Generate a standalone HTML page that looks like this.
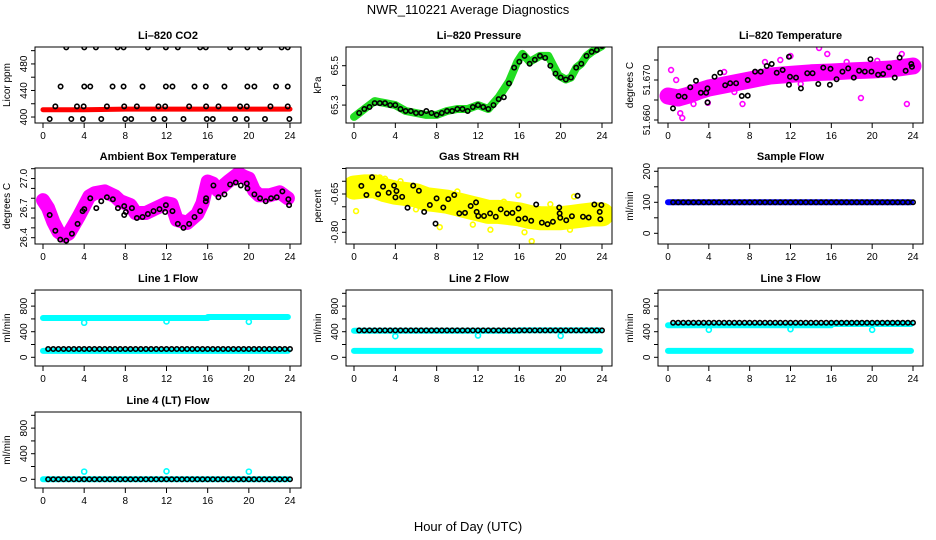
<!DOCTYPE html>
<html><head><meta charset="utf-8">
<style>
html,body{margin:0;padding:0;background:#fff;}
svg{display:block;font-family:"Liberation Sans",Arial,sans-serif;}
</style></head>
<body>
<svg id="chart" width="936" height="540" viewBox="0 0 936 540" xmlns="http://www.w3.org/2000/svg">
<rect x="0" y="0" width="936" height="540" fill="#fff"/>
<text x="468" y="14" text-anchor="middle" font-size="13">NWR_110221  Average Diagnostics</text>
<text x="468" y="531" text-anchor="middle" font-size="13">Hour of Day (UTC)</text>
</svg>
<script>
// ---------- data ----------
const hourTicks = [0,4,8,12,16,20,24];
// CO2
const co2HighHours = [2.26,4.01,5.14,7.25,7.83,10.19,11.94,13.1,15.27,15.82,18.18,19.86,21.09,23.19,23.78];
const co2HighVals  = [505,505,505,505,505,505,505,505,505,505,505,505,505,505,505];
const co2MidHours  = [1.71,4.01,4.59,6.76,7.83,9.67,11.94,12.58,14.72,15.82,17.63,19.86,20.54,22.64,23.78];
const co2MidVals   = [446,446,446,446,446,446,446,446,446,446,446,446,446,446,446];
const co2LowHours  = [1.2,3.3,3.95,6.21,7.89,9.12,11.22,11.87,14.2,15.85,17.05,19.15,19.8,22.1,23.78];
const co2LowVals   = [416,416,416,416,416,416,416,416,416,416,416,416,416,416,416];
const co2BotHours  = [0.65,2.75,3.88,5.66,7.99,8.57,10.74,11.81,13.65,15.91,16.5,18.66,19.8,21.57,23.94];
const co2BotVals   = [397,397,397,397,397,397,397,397,397,397,397,397,397,397,397];
const co2BandHours = [0,4,8,12,16,20,24];
const co2BandVals  = [411,411,412,412,412,412,412];
// Pressure
const presBandHours = [0,0.5,1,2,3,4,5,6,7,8,9,10,11,12,13,14,15,15.8,16.3,17,18,18.8,19.3,19.8,20.5,21,21.5,22,22.5,23,24];
const presBandVals  = [65.24,65.26,65.28,65.32,65.31,65.3,65.27,65.26,65.25,65.25,65.27,65.28,65.28,65.3,65.28,65.34,65.42,65.52,65.56,65.52,65.55,65.55,65.5,65.45,65.43,65.44,65.49,65.51,65.55,65.57,65.6];
const presPtHours = [0.5,1,1.5,2,2.5,3,3.5,4,4.5,5,5.5,6,6.5,7,7.5,8,8.5,9,9.5,10,10.5,11,11.5,12,12.5,13,13.5,14,14.5,15,15.5,16,16.5,17,17.5,18,18.5,19,19.5,20,20.5,21,21.5,22,22.5,23,23.5,24];
const presPtVals  = [65.26,65.28,65.29,65.31,65.31,65.31,65.30,65.30,65.28,65.27,65.27,65.26,65.26,65.27,65.26,65.25,65.26,65.27,65.27,65.28,65.28,65.27,65.29,65.30,65.29,65.28,65.30,65.33,65.34,65.41,65.49,65.52,65.55,65.51,65.53,65.55,65.54,65.50,65.46,65.44,65.43,65.44,65.49,65.51,65.55,65.57,65.58,65.60];
// Li-820 temperature
const tempBandHours = [0,1,2,3,4,6,8,10,12,14,16,18,20,22,24];
const tempBandVals  = [51.6660,51.6655,51.6662,51.6672,51.6680,51.6690,51.6700,51.6710,51.6714,51.6718,51.6720,51.6723,51.6725,51.6728,51.6735];
const tempOutHours = [0.3,1.4,1.2,14.8,15.6,23.4,18.9,7.3,3.9,22.9,12.0,0.8,2.5,5.5,9.5,11.0,17.5,20.5,13.0,6.5];
const tempOutVals  = [51.6725,51.6605,51.6617,51.6780,51.6765,51.6640,51.6655,51.6640,51.6643,51.6765,51.6760,51.6700,51.6640,51.6720,51.6745,51.6750,51.6745,51.6748,51.6690,51.6670];
const tempPtHours = [0.49,1.04,1.63,2.18,2.74,3.22,3.74,3.87,3.87,4.56,5.11,5.6,6.09,6.67,7.23,7.81,7.81,8.53,9.08,9.67,10.16,10.65,11.23,11.85,11.85,11.95,12.54,13.02,13.64,14.16,14.72,15.21,15.92,15.86,16.51,17.09,17.65,18.2,18.72,19.28,19.83,19.93,20.58,21.07,21.65,22.21,22.69,23.28,23.83,23.9];
const tempPtVals  = [51.6629,51.6660,51.6658,51.6682,51.6698,51.6668,51.6668,51.6679,51.6644,51.6708,51.6718,51.6687,51.6692,51.6692,51.6660,51.6661,51.6700,51.6721,51.6721,51.6735,51.6740,51.6718,51.6725,51.6758,51.6688,51.6708,51.6706,51.6679,51.6717,51.6717,51.6690,51.6731,51.6728,51.6688,51.6702,51.6721,51.6729,51.6706,51.6723,51.6721,51.6752,51.6721,51.6713,51.6715,51.6732,51.6706,51.6756,51.6723,51.6740,51.6733];
// Ambient box temperature
const ambBandHours = [0,0.5,1,1.5,2,2.5,3,3.5,4,4.5,5,6,7,7.5,8,8.5,9,10,11,12,12.5,13,14,15,15.5,16,16.5,17,18,19,19.5,20,20.5,21,22,23,23.8];
const ambBandVals  = [26.78,26.70,26.56,26.46,26.42,26.44,26.53,26.62,26.72,26.82,26.85,26.87,26.82,26.77,26.75,26.73,26.65,26.65,26.70,26.75,26.74,26.58,26.55,26.64,26.75,26.97,26.95,26.88,26.97,27.05,27.02,27.0,26.88,26.83,26.83,26.86,26.80];
const ambPtHours = [0.65,1.2,1.68,2.26,2.81,3.36,3.85,4.01,4.59,5.18,5.66,6.21,6.79,7.28,7.89,7.89,8.05,8.64,9.12,9.67,10.19,10.74,11.32,11.87,11.94,12.58,13.1,13.65,14.2,14.72,15.27,15.82,15.85,16.56,17.05,17.63,18.18,18.73,19.22,19.8,19.86,20.54,21.09,21.64,22.16,22.71,23.26,23.84,23.91];
const ambPtVals  = [26.63,26.47,26.38,26.37,26.44,26.54,26.67,26.69,26.80,26.70,26.77,26.81,26.79,26.70,26.72,26.63,26.66,26.70,26.60,26.61,26.64,26.67,26.69,26.66,26.73,26.67,26.54,26.50,26.54,26.61,26.67,26.77,26.80,26.93,26.81,26.84,26.94,26.96,26.93,26.95,26.90,26.84,26.80,26.77,26.80,26.81,26.87,26.79,26.73];
// Gas stream RH
const rhBandHours = [0,1,2,3,4,5,6,7,8,9,10,11,12,13,14,15,16,17,18,19,20,21,22,23,24];
const rhBandVals  = [-0.625,-0.62,-0.62,-0.635,-0.645,-0.65,-0.655,-0.67,-0.675,-0.68,-0.69,-0.70,-0.71,-0.72,-0.72,-0.725,-0.73,-0.74,-0.745,-0.745,-0.745,-0.74,-0.735,-0.73,-0.73];
const rhOutHours = [0.2,2.5,3.0,8.3,13.2,16.5,17.2,15.9,21.3,20.9,11.5,0.5,6.0,10.0,14.5,19.0,22.5,4.5];
const rhOutVals  = [-0.717,-0.585,-0.59,-0.78,-0.79,-0.8,-0.835,-0.655,-0.66,-0.79,-0.77,-0.6,-0.71,-0.64,-0.68,-0.69,-0.7,-0.6];
const rhPtHours = [0.71,1.2,1.75,2.33,2.81,3.36,3.88,4.01,4.11,4.66,5.18,5.73,6.28,6.79,7.34,7.89,7.99,8.64,9.12,9.7,10.19,10.74,11.29,11.81,11.87,12.03,12.58,13.17,13.72,14.2,14.78,15.33,15.92,15.92,16.56,17.15,17.63,18.18,18.73,19.25,19.86,19.9,19.96,20.54,21.09,21.64,22.16,22.71,23.26,23.78,23.94,23.84];
const rhPtVals  = [-0.618,-0.654,-0.584,-0.651,-0.621,-0.645,-0.617,-0.663,-0.638,-0.661,-0.704,-0.617,-0.637,-0.720,-0.693,-0.766,-0.667,-0.703,-0.670,-0.654,-0.726,-0.724,-0.697,-0.683,-0.720,-0.736,-0.736,-0.726,-0.739,-0.710,-0.726,-0.724,-0.707,-0.749,-0.746,-0.755,-0.691,-0.762,-0.768,-0.759,-0.703,-0.726,-0.743,-0.753,-0.737,-0.657,-0.739,-0.742,-0.691,-0.720,-0.693,-0.749];
// Flows
const flowHours = [0.5,1,1.5,2,2.5,3,3.5,4,4.5,5,5.5,6,6.5,7,7.5,8,8.5,9,9.5,10,10.5,11,11.5,12,12.5,13,13.5,14,14.5,15,15.5,16,16.5,17,17.5,18,18.5,19,19.5,20,20.5,21,21.5,22,22.5,23,23.5,24];
const bandHours = [0,16,16.01,23.8];
const sampleBand = [100,100,100,100];
const sampleBlack = [100,100,100,100,100,100,100,100,100,100,100,100,100,100,100,100,100,100,100,100,100,100,100,100,100,100,100,100,100,100,100,100,100,100,100,100,100,100,100,100,100,100,100,100,100,100,100,100];
const line1BandHigh = [615,615,630,630];
const line1BandLow = [100,100,100,100];
const line1Black = [130,130,130,130,130,130,130,130,130,130,130,130,130,130,130,130,130,130,130,130,130,130,130,130,130,130,130,130,130,130,130,130,130,130,130,130,130,130,130,130,130,130,130,130,130,130,130,130];
const line2BandHigh = [415,415,420,420];
const line2BandLow = [100,100,100,100];
const line2Black = [420,420,420,420,420,420,420,420,420,420,420,420,420,420,420,420,420,420,420,420,420,420,420,420,420,420,420,420,420,420,420,420,420,420,420,420,420,420,420,420,420,420,420,420,420,420,420,420];
const line3BandHigh = [500,500,520,520];
const line3BandLow = [100,100,100,100];
const line3Black = [540,540,540,540,540,540,540,540,540,540,540,540,540,540,540,540,540,540,540,540,540,540,540,540,540,540,540,540,540,540,540,540,540,540,540,540,540,540,540,540,540,540,540,540,540,540,540,540];
const line4BandLow = [0,0,0,0];
const line4Black = [0,0,0,0,0,0,0,0,0,0,0,0,0,0,0,0,0,0,0,0,0,0,0,0,0,0,0,0,0,0,0,0,0,0,0,0,0,0,0,0,0,0,0,0,0,0,0,0];
const outHours = [4,12,20];
const line1Out = [540,560,555];
const line2Out = [330,340,335];
const line3Out = [430,440,430];
const line4Out = [120,125,120];

// ---------- layout (not data) ----------
const cols = [{l:35,r:301,x0:43,x24:290},{l:346,r:612,x0:354,x24:602},{l:658,r:923,x0:668,x24:913}];
const rows = [47,168,290,412];
const H = 76;
const svg = document.getElementById('chart');
const NS = 'http://www.w3.org/2000/svg';
function mk(tag, attrs, parent){
  const e = document.createElementNS(NS, tag);
  for (const k in attrs) e.setAttribute(k, attrs[k]);
  (parent||svg).appendChild(e);
  return e;
}
function panel(cfg){
  const c = cols[cfg.col], top = rows[cfg.row];
  const g = mk('g', {});
  
  
  const p = {g, c, top,
    x: h => c.x0 + h/24*(c.x24-c.x0),
    y: v => top + (cfg.ymax - v)/(cfg.ymax-cfg.ymin)*H};
  const t = mk('text', {x:(c.l+c.r)/2, y:top-8, 'text-anchor':'middle', 'font-size':11, 'font-weight':'bold'}, g);
  t.textContent = cfg.title;
  
  
  hourTicks.forEach(h => {
    const xx = p.x(h);
    const tk = mk('line', {x1:xx, x2:xx, y1:top+H, y2:top+H+5, stroke:'#000', 'stroke-width':1}, g);
    
    
    const tl = mk('text', {x:xx, y:top+H+16, 'text-anchor':'middle', 'font-size':10}, g);
    tl.textContent = h;
    
    
  });
  cfg.ticks.forEach(v => {
    const yy = p.y(v);
    const tk = mk('line', {x1:c.l-4, x2:c.l, y1:yy, y2:yy, stroke:'#000', 'stroke-width':1}, g);
    
    
  });
  cfg.labels.forEach((v,i) => {
    const yy = p.y(v);
    const tl = mk('text', {x:0, y:0, transform:`translate(${c.l-8},${yy}) rotate(-90)`, 'text-anchor':'middle', 'font-size':10}, g);
    tl.textContent = cfg.labelText ? cfg.labelText[i] : v;
    
    
  });
  const yl = mk('text', {x:0, y:0, transform:`translate(${c.l-25},${top+H/2}) rotate(-90)`, 'text-anchor':'middle', 'font-size':10}, g);
  yl.textContent = cfg.ylab;
  
  
  const clip = mk('clipPath', {id:'clip-'+cfg.name}, g);
  mk('rect', {x:c.l, y:top, width:c.r-c.l, height:H}, clip);
  p.plot = mk('g', {'clip-path':`url(#clip-${cfg.name})`}, g);
  
  
  p.cfg = cfg;
  return p;
}
function frame(p){
  const b = mk('rect', {x:p.c.l, y:p.top, width:p.c.r-p.c.l, height:H, fill:'none', stroke:'#000', 'stroke-width':1}, p.g);
  
  
}
function band(p, xs, ys, color, w, name){
  const pts = xs.map((h,i) => p.x(h).toFixed(1)+','+p.y(ys[i]).toFixed(1)).join(' ');
  const e = mk('polyline', {points:pts, fill:'none', stroke:color, 'stroke-width':w, 'stroke-linecap':'round', 'stroke-linejoin':'round'}, p.plot);
  
  
}
function points(p, xs, ys, color, r, sw, name){
  xs.forEach((h,i) => {
    const e = mk('circle', {cx:p.x(h), cy:p.y(ys[i]), r:r, fill:'none', stroke:color, 'stroke-width':sw}, p.plot);
    
    
  });
}
const flowTicks = [0,200,400,600,800,1000], flowLabels = [0,400,800];

let p = panel({name:'co2', title:'Li–820 CO2', ylab:'Licor ppm', col:0, row:0, ymin:391, ymax:505.5, ticks:[400,420,440,460,480,500], labels:[400,440,480]});
band(p, co2BandHours, co2BandVals, '#ff0000', 5, 'co2-raw-band');
points(p, co2HighHours, co2HighVals, '#000', 2.2, 1.6, 'co2-avg-point');
points(p, co2MidHours, co2MidVals, '#000', 2.2, 1.6, 'co2-avg-point');
points(p, co2LowHours, co2LowVals, '#000', 2.2, 1.6, 'co2-avg-point');
points(p, co2BotHours, co2BotVals, '#000', 2.2, 1.6, 'co2-avg-point');
frame(p);
p = panel({name:'pressure', title:'Li–820 Pressure', ylab:'kPa', col:1, row:0, ymin:65.209, ymax:65.595, ticks:[65.3,65.4,65.5], labels:[65.3,65.5]});
band(p, presBandHours, presBandVals, '#22dd22', 8, 'pressure-raw-band');
points(p, presPtHours, presPtVals, '#000', 2.2, 1.6, 'pressure-avg-point');
frame(p);
p = panel({name:'licor-temp', title:'Li–820 Temperature', ylab:'degrees C', col:2, row:0, ymin:51.65925, ymax:51.67825, ticks:[51.660,51.665,51.670,51.675], labels:[51.660,51.670], labelText:['51.660','51.670']});
band(p, tempBandHours, tempBandVals, '#ff00ff', 17, 'licor-temp-raw-band');
points(p, tempOutHours, tempOutVals, '#ff00ff', 2.4, 1.6, 'licor-temp-raw-point');
points(p, tempPtHours, tempPtVals, '#000', 2.2, 1.6, 'licor-temp-avg-point');
frame(p);
p = panel({name:'ambient', title:'Ambient Box Temperature', ylab:'degrees C', col:0, row:1, ymin:26.336, ymax:27.107, ticks:[26.4,26.5,26.6,26.7,26.8,26.9,27.0,27.1], labels:[26.4,26.7,27.0], labelText:['26.4','26.7','27.0']});
band(p, ambBandHours, ambBandVals, '#ff00ff', 14, 'ambient-raw-band');
points(p, ambPtHours, ambPtVals, '#000', 2.2, 1.6, 'ambient-avg-point');
frame(p);
p = panel({name:'rh', title:'Gas Stream RH', ylab:'percent', col:1, row:1, ymin:-0.846, ymax:-0.548, ticks:[-0.55,-0.6,-0.65,-0.7,-0.75,-0.8], labels:[-0.65,-0.8], labelText:['-0.65','-0.80']});
band(p, rhBandHours, rhBandVals, '#ffff00', 24, 'rh-raw-band');
points(p, rhOutHours, rhOutVals, '#ffff00', 2.4, 1.6, 'rh-raw-point');
points(p, rhPtHours, rhPtVals, '#000', 2.2, 1.6, 'rh-avg-point');
frame(p);
p = panel({name:'sample-flow', title:'Sample Flow', ylab:'ml/min', col:2, row:1, ymin:-34.5, ymax:210.6, ticks:[0,50,100,150,200], labels:[0,100,200]});
band(p, bandHours, sampleBand, '#0000ff', 6, 'sample-flow-raw-band');
points(p, flowHours, sampleBlack, '#000', 2.2, 1.6, 'sample-flow-avg-point');
frame(p);
p = panel({name:'line1', title:'Line 1 Flow', ylab:'ml/min', col:0, row:2, ymin:-136, ymax:1052, ticks:flowTicks, labels:flowLabels});
band(p, bandHours, line1BandHigh, '#00ffff', 6, 'line1-raw-band-high');
band(p, bandHours, line1BandLow, '#00ffff', 6, 'line1-raw-band-low');
points(p, outHours, line1Out, '#00ffff', 2.5, 1.6, 'line1-outlier');
points(p, flowHours, line1Black, '#000', 2.2, 1.6, 'line1-avg-point');
frame(p);
p = panel({name:'line2', title:'Line 2 Flow', ylab:'ml/min', col:1, row:2, ymin:-136, ymax:1052, ticks:flowTicks, labels:flowLabels});
band(p, bandHours, line2BandHigh, '#00ffff', 6, 'line2-raw-band-high');
band(p, bandHours, line2BandLow, '#00ffff', 6, 'line2-raw-band-low');
points(p, outHours, line2Out, '#00ffff', 2.5, 1.6, 'line2-outlier');
points(p, flowHours, line2Black, '#000', 2.2, 1.6, 'line2-avg-point');
frame(p);
p = panel({name:'line3', title:'Line 3 Flow', ylab:'ml/min', col:2, row:2, ymin:-136, ymax:1052, ticks:flowTicks, labels:flowLabels});
band(p, bandHours, line3BandHigh, '#00ffff', 6, 'line3-raw-band-high');
band(p, bandHours, line3BandLow, '#00ffff', 6, 'line3-raw-band-low');
points(p, outHours, line3Out, '#00ffff', 2.5, 1.6, 'line3-outlier');
points(p, flowHours, line3Black, '#000', 2.2, 1.6, 'line3-avg-point');
frame(p);
p = panel({name:'line4', title:'Line 4 (LT) Flow', ylab:'ml/min', col:0, row:3, ymin:-136, ymax:1052, ticks:flowTicks, labels:flowLabels});
band(p, bandHours, line4BandLow, '#00ffff', 6, 'line4-raw-band');
points(p, outHours, line4Out, '#00ffff', 2.5, 1.6, 'line4-outlier');
points(p, flowHours, line4Black, '#000', 2.2, 1.6, 'line4-avg-point');
frame(p);
</script>
</body></html>
